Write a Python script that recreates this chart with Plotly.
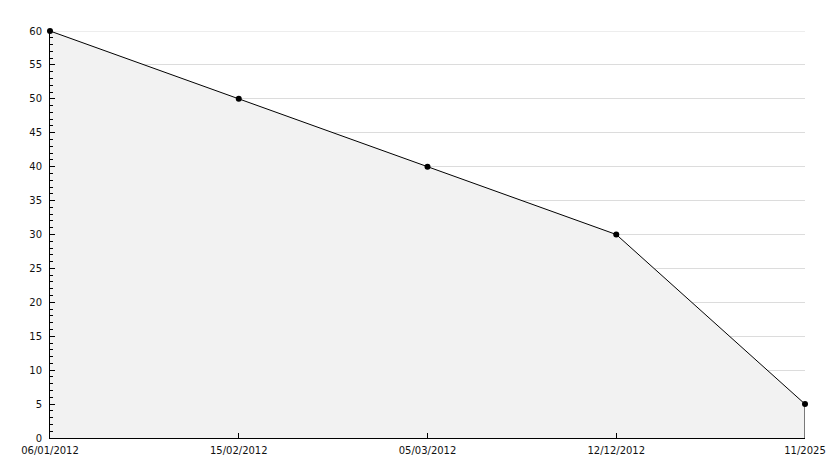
import plotly.graph_objects as go

categories = ["06/01/2012", "15/02/2012", "05/03/2012", "12/12/2012", "11/2025"]
values = [60, 50, 40, 30, 5]
y_max = 60

xs = list(range(len(categories)))

fig = go.Figure()
fig.add_trace(go.Scatter(
    x=xs, y=values, mode="lines+markers",
    line=dict(color="black", width=1),
    marker=dict(color="black", size=6, symbol="circle"),
    fill="tozeroy", fillcolor="#f2f2f2",
    hoverinfo="skip", showlegend=False, cliponaxis=False,
))
# right edge of the filled area
fig.add_trace(go.Scatter(
    x=[xs[-1], xs[-1]], y=[values[-1], 0], mode="lines",
    line=dict(color="black", width=1), hoverinfo="skip", showlegend=False,
    cliponaxis=False,
))
# top gridline at the axis maximum
fig.add_shape(type="line", xref="paper", x0=0, x1=1, yref="y", y0=y_max, y1=y_max,
              line=dict(color="#dcdcdc", width=1), layer="below")

fig.update_layout(
    width=834, height=468,
    margin=dict(l=50, r=29, t=31, b=30),
    paper_bgcolor="white", plot_bgcolor="white",
    font=dict(family="DejaVu Sans", size=10, color="#111"),
)
fig.update_xaxes(
    range=[0, len(categories) - 1], automargin=False,
    tickmode="array", tickvals=xs, ticktext=categories,
    showgrid=False, zeroline=False,
    showline=True, linecolor="black", linewidth=1,
    ticks="inside", ticklen=5, tickcolor="black", ticklabelstandoff=3,
)
fig.update_yaxes(
    range=[0, y_max], dtick=5, tick0=0, automargin=False,
    showgrid=True, gridcolor="#dcdcdc", gridwidth=1,
    zeroline=False,
    showline=True, linecolor="black", linewidth=1,
    ticks="inside", ticklen=5, tickcolor="black", ticklabelstandoff=5,
    minor=dict(dtick=1, ticks="inside", ticklen=3, tickcolor="black", showgrid=False),
)

fig.write_html("out.html", post_script="document.body.style.margin='0';",
               config={"displayModeBar": False})
